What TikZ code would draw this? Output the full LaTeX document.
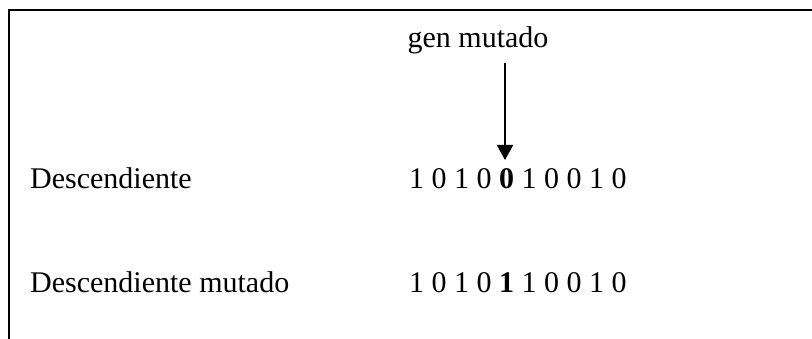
\documentclass[tikz,border=0pt]{standalone}
\usepackage{fontspec}
\setmainfont{Liberation Serif}
\usetikzlibrary{arrows.meta}
\begin{document}
\begin{tikzpicture}[x=1pt,y=-1pt,
		txt/.style={inner sep=0pt,anchor=base west,font=\fontsize{30}{36}\selectfont}]
	\useasboundingbox (0,0) rectangle (812,339);
	\draw[line width=2.5pt] (812,10) -- (9,10) -- (9,339);
	\node[txt,anchor=base] (gen) at (478,48) {gen mutado};
	\node[txt] (desc) at (30,189) {Descendiente};
	\node[txt] (bits) at (409,189) {1 0 1 0 \textbf{0} 1 0 0 1 0};
	\node[txt] (mdesc) at (30,293) {Descendiente mutado};
	\node[txt] (mbits) at (409,293) {1 0 1 0 \textbf{1} 1 0 0 1 0};
	\coordinate (tail) at (505,63);
	\coordinate (head) at (505,160);
	\draw[line width=2pt,-{Triangle[width=16pt,length=15pt]}] (tail) -- (head);
\end{tikzpicture}
\end{document}
